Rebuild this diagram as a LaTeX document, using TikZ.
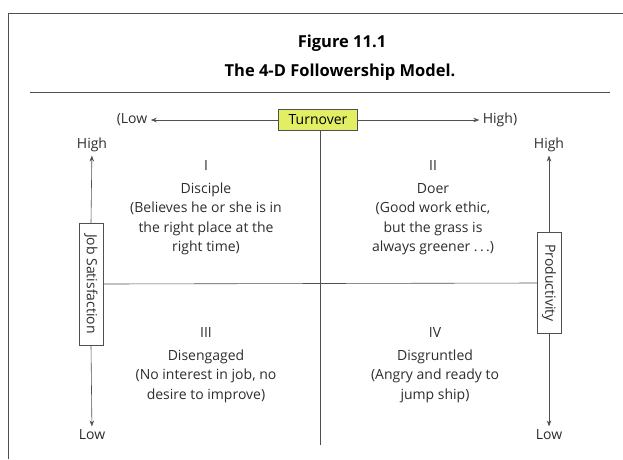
\documentclass[tikz,border=0pt]{standalone}
\usepackage{fontspec}
\setmainfont{Open Sans}
\usetikzlibrary{arrows.meta}
\definecolor{ink}{RGB}{45,45,45}
\definecolor{rulegray}{RGB}{80,80,80}
\definecolor{hilite}{RGB}{226,238,100}

\begin{document}
\begin{tikzpicture}[x=1pt,y=-1pt,
    every node/.style={text=ink,font=\fontsize{14}{19.5}\selectfont},
    title/.style={text=black,font=\fontsize{16.5}{18}\selectfont\bfseries},
    quad/.style={align=center},
    axisbox/.style={draw=rulegray,rotate=-90,inner sep=1pt,minimum height=24pt},
    line/.style={draw=rulegray,line width=0.6pt},
    arr/.style={line,-{Stealth[length=6pt,width=4.5pt]}}]
  \useasboundingbox (0,0) rectangle (623,459);

  % frame and title
  \coordinate (fbl) at (8,459);
  \coordinate (ftr) at (623,13);
  \draw[line] (fbl) |- (ftr);
  \node[title] (fig) at (342,43) {Figure 11.1};
  \node[title] (name) at (340,72) {The 4-D Followership Model.};
  \coordinate (rl) at (30,92);
  \coordinate (rr) at (610,92);
  \draw[line] (rl) -- (rr);

  % turnover axis
  \node[draw=rulegray,fill=hilite,text=black,inner sep=2pt,minimum width=79pt,minimum height=21pt] (turn) at (318,120) {Turnover};
  \node (lowT) at (132,120) {(Low};
  \node (highT) at (500,120) {High)};
  \draw[arr] (turn) -- (lowT);
  \draw[arr] (turn) -- (highT);

  % side axes
  \node[axisbox,minimum width=122pt] (job) at (91,284) {Job Satisfaction};
  \node[axisbox,minimum width=101pt] (prod) at (549,283) {Productivity};
  \node (highL) at (92,145) {High};
  \node (lowL) at (92,435) {Low};
  \node (highR) at (549,145) {High};
  \node (lowR) at (549,435) {Low};
  \draw[arr] (job.west) -- (highL);
  \draw[arr] (job.east) -- (lowL);
  \draw[arr] (prod.west) -- (highR);
  \draw[arr] (prod.east) -- (lowR);

  % quadrant dividers
  \coordinate (cbot) at (320,445);
  \draw[line] (turn.south -| cbot) -- (cbot);
  \draw[line] (job.north) -- (prod.south);

  % quadrants
  \node[quad] (q1) at (206,208) {I\\[3pt] Disciple\\ (Believes he or she is in\\ the right place at the\\ right time)};
  \node[quad] (q2) at (433,208) {II\\[3pt] Doer\\ (Good work ethic,\\ but the grass is\\ always greener~.\,.\,.)};
  \node[quad] (q3) at (206,365) {III\\[3pt] Disengaged\\ (No interest in job, no\\ desire to improve)};
  \node[quad] (q4) at (435,365) {IV\\[3pt] Disgruntled\\ (Angry and ready to\\ jump ship)};
\end{tikzpicture}
\end{document}
